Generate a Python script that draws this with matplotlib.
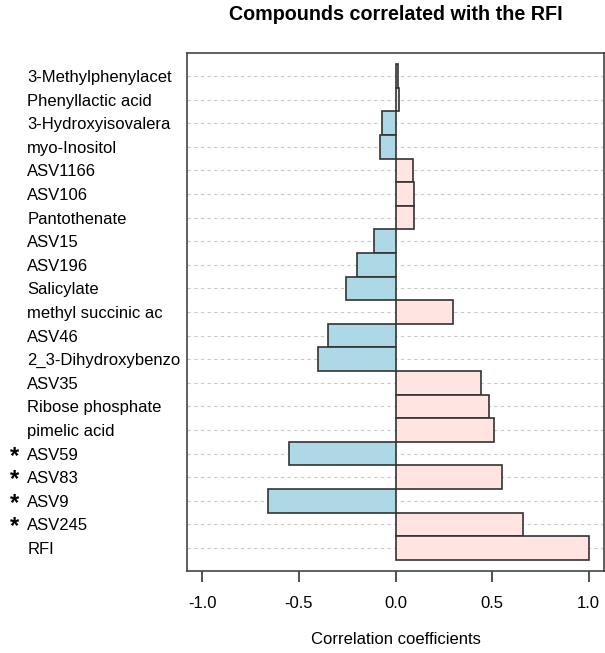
import numpy as np
import matplotlib
matplotlib.use("Agg")
import matplotlib.pyplot as plt
from matplotlib.transforms import blended_transform_factory

plt.rcParams['font.family'] = ['Liberation Sans', 'DejaVu Sans']

# Dados (de cima para baixo)
labels = ["3-Methylphenylacet", "Phenyllactic acid", "3-Hydroxyisovalera",
          "myo-Inositol", "ASV1166", "ASV106", "Pantothenate", "ASV15",
          "ASV196", "Salicylate", "methyl succinic ac", "ASV46",
          "2_3-Dihydroxybenzo", "ASV35", "Ribose phosphate", "pimelic acid",
          "ASV59", "ASV83", "ASV9", "ASV245", "RFI"]
values = [0.012, 0.019, -0.070, -0.079, 0.090, 0.095, 0.097, -0.110,
          -0.200, -0.257, 0.296, -0.351, -0.400, 0.441, 0.482, 0.510,
          -0.553, 0.551, -0.663, 0.663, 1.000]
starred = ["ASV59", "ASV83", "ASV9", "ASV245"]
xticks = [-1.0, -0.5, 0.0, 0.5, 1.0]

W, H = 605, 653
fig = plt.figure(figsize=(W / 100, H / 100), dpi=100)
ax = fig.add_axes([187 / W, (H - 571) / H, (604 - 187) / W, (571 - 53) / H])

n = len(labels)
y = np.arange(n)[::-1]
colors = ["#FFE4E1" if v > 0 else "#ADD8E6" for v in values]
ax.barh(y, values, height=1.0, color=colors, edgecolor="#333333",
        linewidth=1.2, zorder=3)

ax.set_xlim(-1.08, 1.08)
ax.set_ylim(-0.97, n - 0.03)
ax.set_yticks(y)
ax.set_yticklabels(labels, ha="left", fontsize=12)
ax.tick_params(axis="y", length=0, pad=115)
ax.grid(axis="y", linestyle=(0, (3, 3)), color="#c8c8c8", linewidth=0.8, zorder=0)

ax.set_xticks(xticks)
ax.set_xticklabels([f"{t:.1f}" for t in xticks], fontsize=12)
ax.tick_params(axis="x", direction="out", length=8, width=1.2, pad=10,
               color="#333333")
for s in ax.spines.values():
    s.set_color("#444444")
    s.set_linewidth(1.2)

# Asteriscos
tr = blended_transform_factory(fig.transFigure, ax.transData)
for lab, yy in zip(labels, y):
    if lab in starred:
        fig.text(14 / W, yy - 0.1, "*", transform=tr, ha="center", va="center",
                 fontsize=17, fontweight="bold")

ax.set_xlabel("Correlation coefficients", fontsize=12, labelpad=15)
fig.text(396 / W, 1 - 15 / H, "Compounds correlated with the RFI",
         ha="center", va="center", fontsize=14.2, fontweight="bold")

fig.savefig("out.png", dpi=100)
